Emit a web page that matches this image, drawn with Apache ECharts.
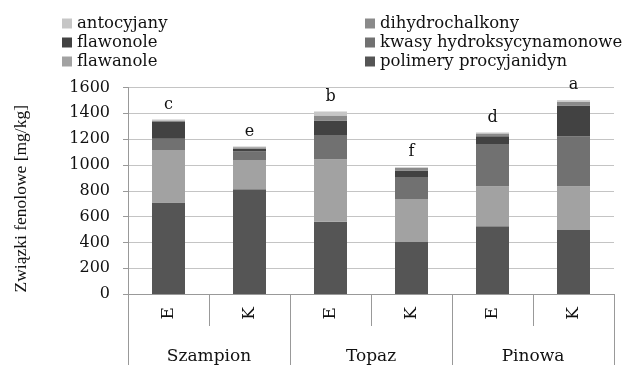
<!DOCTYPE html>
<html><head><meta charset="utf-8">
<script src="https://cdn.jsdelivr.net/npm/echarts@6/dist/echarts.min.js"></script>
<style>html,body{margin:0;padding:0;background:#fff}#c{width:635px;height:365px}</style>
</head><body><div id="c"></div>
<script>
const categories = ['E', 'K', 'E', 'K', 'E', 'K'];
const groups = ['Szampion', 'Topaz', 'Pinowa'];
const letters = ['c', 'e', 'b', 'f', 'd', 'a'];
const polimery = [708, 812, 559, 402, 524, 496];
const flawanole = [407, 226, 486, 335, 310, 338];
const kwasy = [87, 67, 186, 169, 328, 388];
const flawonole = [131, 20, 114, 50, 60, 238];
const dihydrochalkony = [12, 12, 38, 20, 22, 30];
const antocyjany = [8, 5, 32, 7, 8, 12];
const yTicks = [0, 200, 400, 600, 800, 1000, 1200, 1400, 1600];

const font = 'DejaVu Serif';
const colors = {
  'polimery procyjanidyn': '#555555',
  'flawanole': '#a2a2a2',
  'kwasy hydroksycynamonowe': '#717171',
  'flawonole': '#424242',
  'dihydrochalkony': '#8a8a8a',
  'antocyjany': '#c6c6c6'
};
const stackOrder = [
  ['polimery procyjanidyn', polimery],
  ['flawanole', flawanole],
  ['kwasy hydroksycynamonowe', kwasy],
  ['flawonole', flawonole],
  ['dihydrochalkony', dihydrochalkony],
  ['antocyjany', antocyjany]
];
const series = stackOrder.map(([n, d], i) => ({
  name: n, type: 'bar', stack: 's', data: d, barWidth: 33,
  itemStyle: {color: colors[n]},
  label: i === stackOrder.length - 1 ? {
    show: true, position: 'top', distance: 7,
    formatter: p => letters[p.dataIndex],
    fontFamily: font, fontSize: 16, color: '#111'
  } : {show: false},
  emphasis: {disabled: true}
}));
const legendCommon = {
  orient: 'vertical', itemWidth: 10, itemHeight: 10, itemGap: 2, icon: 'rect', padding: 0,
  textStyle: {fontFamily: font, fontSize: 16.5, color: '#111', lineHeight: 17},
  top: 15
};
const chart = echarts.init(document.getElementById('c'));
chart.setOption({
  animation: false,
  legend: [
    Object.assign({}, legendCommon, {left: 62, data: ['antocyjany', 'flawonole', 'flawanole']}),
    Object.assign({}, legendCommon, {left: 365, data: ['dihydrochalkony', 'kwasy hydroksycynamonowe', 'polimery procyjanidyn']})
  ],
  grid: {left: 128, right: 21, top: 87.5, bottom: 62.7},
  xAxis: [
    {type: 'category', data: categories, position: 'bottom',
     axisLine: {show: true, lineStyle: {color: '#999'}},
     axisTick: {show: true, interval: 0, length: 32, lineStyle: {color: '#999'}},
     axisLabel: {interval: 0, rotate: 90, margin: 13, fontFamily: font, fontSize: 17, color: '#111'}
    },
    {type: 'category', data: groups, position: 'bottom',
     axisLine: {show: false},
     axisTick: {show: true, interval: 0, length: 80, lineStyle: {color: '#999'}},
     axisLabel: {interval: 0, margin: 54, fontFamily: font, fontSize: 17, color: '#111'}
    }
  ],
  yAxis: {
    type: 'value', min: 0, max: 1600, interval: 200,
    name: 'Związki fenolowe [mg/kg]', nameLocation: 'middle', nameGap: 98, nameRotate: 90,
    nameTextStyle: {fontFamily: 'Liberation Serif', fontSize: 17.5, color: '#111', padding: [0, 16, 0, 0]},
    axisLine: {show: true, lineStyle: {color: '#999'}},
    axisTick: {show: true, length: 5, lineStyle: {color: '#999'}},
    axisLabel: {margin: 18, fontFamily: font, fontSize: 16, color: '#111',
      formatter: v => yTicks.includes(v) ? String(v) : ''},
    splitLine: {show: true, lineStyle: {color: '#c4c4c4'}}
  },
  series: series
});
</script></body></html>
